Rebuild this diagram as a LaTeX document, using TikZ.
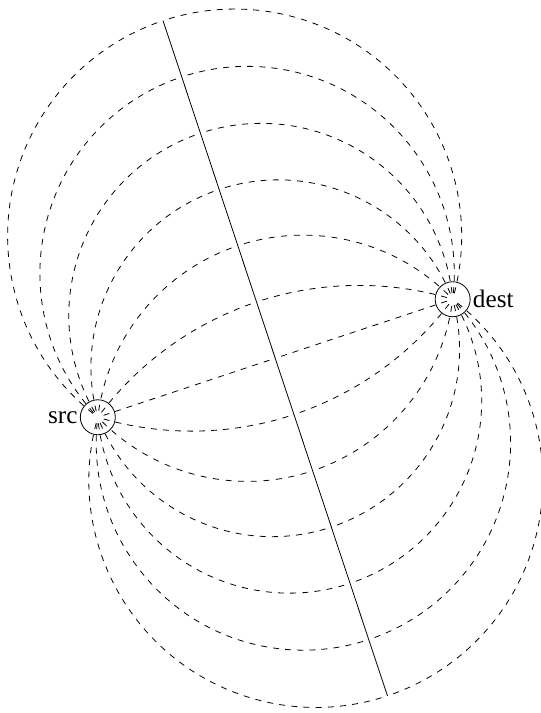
\documentclass[tikz,border=0pt]{standalone}
\usepackage{fontspec}
\setmainfont{Liberation Serif}
\usetikzlibrary{calc,decorations}

\newcommand{\halfbase}{3.286}
\newcommand{\arcstep}{1.042}
\newcommand{\tilt}{18.39}

\begin{document}
\begin{tikzpicture}[
  font=\fontsize{12.6}{15}\selectfont,
  station/.style={draw,circle,minimum size=17.5pt,inner sep=0pt},
  fieldline/.style={dashed,dash expand off},
  tag/.style={inner sep=1pt}
]
\useasboundingbox (0,0) rectangle (9.507,12.530);
\node[station,label={[tag]left:src}] (src) at (1.719,5.197) {};
\node[station,label={[tag]right:dest}] (dest) at (7.955,7.271) {};
\coordinate (mid) at (4.837,6.234);
\coordinate (top) at (2.865,12.167);
\coordinate (bottom) at (6.809,0.301);

% straight line in the middle
\draw[fieldline] (src.center) -- (mid);
\draw[fieldline] (dest.center) -- (mid);

% arcs through src and dest, k steps off the middle
\foreach \k in {-6,...,-1,1,2,...,6} {
  \pgfmathsetmacro{\dd}{\k*\arcstep}
  \pgfmathsetmacro{\cc}{(\dd*\dd-\halfbase*\halfbase)/(2*\dd)}
  \pgfmathsetmacro{\rr}{abs((\halfbase*\halfbase+\dd*\dd)/(2*\dd))}
  \pgfmathsetmacro{\ph}{atan2(-\cc,\halfbase)}
  \pgfmathsetmacro{\startang}{180-\ph+\tilt}
  \pgfmathsetmacro{\endang}{(\k>0 ? \ph : 360+\ph)+\tilt}
  \pgfmathsetmacro{\apexang}{(\k>0 ? 90 : 270)+\tilt}
  \draw[fieldline] (src.center) arc[start angle=\startang,end angle=\apexang,radius=\rr cm];
  \draw[fieldline] (dest.center) arc[start angle=\endang,end angle=\apexang,radius=\rr cm];
}

\draw (top) -- (bottom);
\end{tikzpicture}
\end{document}
